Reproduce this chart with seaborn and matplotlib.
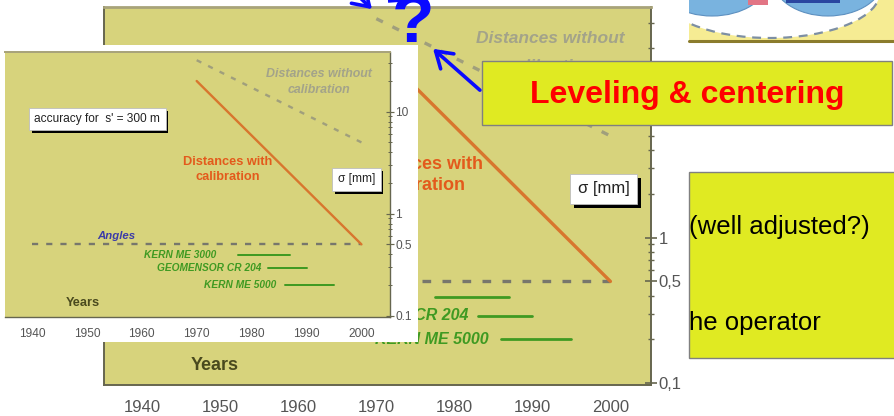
import numpy as np
import matplotlib
matplotlib.use("Agg")
import matplotlib.pyplot as plt
import matplotlib.patheffects as pe
from matplotlib.patches import Rectangle, Ellipse, FancyArrowPatch
from matplotlib.ticker import FixedLocator, FixedFormatter, LogLocator, NullFormatter, MultipleLocator
import seaborn as sns

# values (sigma in mm over the years)
years_with_cal = [1970, 2000]
sigma_with_cal = [20, 0.5]
years_without_cal = [1970, 2000]
sigma_without_cal = [32, 5]
years_angles = [1940, 2000]
sigma_angles = [0.5, 0.5]
instrument_names = ["KERN ME 3000", "GEOMENSOR CR 204", "KERN ME 5000"]
instrument_from = [1977.5, 1983, 1986]
instrument_to = [1987, 1990, 1995]
instrument_sigma = [0.39, 0.29, 0.2]
x_ticks = [1940, 1950, 1960, 1970, 1980, 1990, 2000]
y_ticks = [0.1, 0.5, 1, 10]
# the big chart's "10" sits under the "Leveling & centering" box
y_labels_big = ["0,1", "0,5", "1", ""]
y_labels_small = ["0.1", "0.5", "1", "10"]

W, H = 894, 416
CHART_BG = "#d7d37c"
SPINE = "#66664f"
BLUE = "#0a0aff"
SLIDE_YELLOW = "#e0ea22"

sns.set_theme(style="white")
plt.rcParams["font.family"] = ["Liberation Sans", "DejaVu Sans"]


def px_rect(left, top, right, bottom):
    return [left / W, 1 - bottom / H, (right - left) / W, (bottom - top) / H]


def boxed_text(ax, x, y, text, size, s):
    t = ax.text(x, y, text, fontsize=size, ha="center", va="center", color="#222222",
                bbox=dict(boxstyle="square,pad=0.45", fc="white", ec="#bdbdbd", lw=0.6))
    t.get_bbox_patch().set_path_effects(
        [pe.SimplePatchShadow(offset=(3 * s, -3 * s), shadow_rgbFace="black", alpha=1), pe.Normal()])
    return t


def draw_chart(ax, s, y_labels, green_size, nocal_second):
    ax.set_facecolor(CHART_BG)
    ax.set_yscale("log")

    sns.lineplot(x=years_without_cal, y=sigma_without_cal, ax=ax, color="#a09f7c", linewidth=2.4 * s)
    ax.lines[-1].set_dashes((2.2, 3.2))
    sns.lineplot(x=years_angles, y=sigma_angles, ax=ax, color="#77776c", linewidth=2.4 * s)
    ax.lines[-1].set_dashes((2.6, 3.4))
    sns.lineplot(x=years_with_cal, y=sigma_with_cal, ax=ax, color="#d8762e", linewidth=2.4 * s)
    for x0, x1, y in zip(instrument_from, instrument_to, instrument_sigma):
        sns.lineplot(x=[x0, x1], y=[y, y], ax=ax, color="#3f9a22", linewidth=2.0 * s)

    label_right = [1973.5, 1981.8, 1984.4]
    for name, xr, y in zip(instrument_names, label_right, instrument_sigma):
        ax.text(xr, y, name, ha="right", va="center", fontsize=green_size, color="#3f9a22",
                fontweight="bold", fontstyle="italic")

    ax.text(1992.3, 23.5, "Distances without", ha="center", va="center", fontsize=12.5 * s,
            color="#a3a38a", fontweight="bold", fontstyle="italic")
    ax.text(1992.3, nocal_second, "calibration", ha="center", va="center", fontsize=12.5 * s,
            color="#a3a38a", fontweight="bold", fontstyle="italic")
    ax.text(1975.6, 3.2, "Distances with", ha="center", va="center", fontsize=13 * s,
            color="#e35a1c", fontweight="bold")
    ax.text(1975.6, 2.3, "calibration", ha="center", va="center", fontsize=13 * s,
            color="#e35a1c", fontweight="bold")
    ax.text(1955.4, 0.6, "Angles", ha="center", va="center", fontsize=11.5 * s,
            color="#3b3ba8", fontweight="bold", fontstyle="italic")
    ax.text(1949.3, 0.132, "Years", ha="center", va="center", fontsize=13 * s,
            color="#4a4a1e", fontweight="bold")
    boxed_text(ax, 1999.1, 2.17, "σ [mm]", 12 * s, s)
    boxed_text(ax, 1951.9, 8.5, "accuracy for  s' = 300 m", 12 * s, s)

    ax.set_xlim(1935.1, 2005.2)
    ax.set_ylim(0.097, 38.5)
    ax.xaxis.set_major_locator(FixedLocator(x_ticks))
    ax.xaxis.set_minor_locator(MultipleLocator(5))
    ax.yaxis.set_major_locator(FixedLocator(y_ticks))
    ax.yaxis.set_major_formatter(FixedFormatter(y_labels))
    ax.yaxis.set_minor_locator(LogLocator(base=10, subs=np.arange(2, 10)))
    ax.yaxis.set_minor_formatter(NullFormatter())
    ax.yaxis.tick_right()
    ax.tick_params(which="major", direction="inout", length=8 * s, width=1.2 * s, color=SPINE,
                   labelsize=12 * s, labelcolor="#555555")
    ax.tick_params(which="minor", direction="inout", length=4 * s, width=1.0 * s, color=SPINE)
    ax.tick_params(axis="x", which="major", pad=7 * s)
    ax.tick_params(axis="y", which="major", pad=1.5 * s)
    ax.set_xlabel("")
    ax.set_ylabel("")
    for side in ["left", "right", "bottom"]:
        ax.spines[side].set_color(SPINE)
        ax.spines[side].set_linewidth(1.4 * s)
    ax.spines["top"].set_color("#a8a37a")
    ax.spines["top"].set_linewidth(2.0 * s)


fig = plt.figure(figsize=(W / 100, H / 100), dpi=100)
fig.patch.set_facecolor("white")

big = fig.add_axes(px_rect(104, 7, 651, 385), zorder=1)
draw_chart(big, 1.0, y_labels_big, 11.5, 15)

backing = fig.add_axes(px_rect(0, 45, 418, 342), zorder=2)
backing.set_facecolor("white")
backing.set_xticks([])
backing.set_yticks([])
for sp in backing.spines.values():
    sp.set_visible(False)

small = fig.add_axes(px_rect(5, 52, 390, 317), zorder=3)
draw_chart(small, 0.71, y_labels_small, 7.3, 16.2)
small.spines["left"].set_visible(False)

over = fig.add_axes([0, 0, 1, 1], zorder=4)
over.set_xlim(0, W)
over.set_ylim(H, 0)
over.axis("off")
over.patch.set_alpha(0)

# picture at the top right
frame = Rectangle((689, 0), 205, 41, fc="#f6ec93", ec="none")
over.add_patch(frame)
for patch in [
    Ellipse((770, -8), 220, 92, fc="white", ec="#7d8fa3", lw=1.6, ls=(0, (4, 3))),
    Ellipse((712, -20), 112, 72, fc="#79b3df", ec="#5d90c0", lw=0.8),
    Ellipse((828, -22), 112, 76, fc="#79b3df", ec="#5d90c0", lw=0.8),
    Rectangle((748, 0), 20, 5, fc="#e27585", ec="none"),
    Rectangle((786, 0), 54, 3, fc="#2a46a0", ec="none"),
]:
    over.add_patch(patch)
    patch.set_clip_path(frame)
over.plot([689, 894], [41, 41], color="#8b7c2c", lw=2.2)

# slide boxes
over.add_patch(Rectangle((482, 61), 410, 64, fc=SLIDE_YELLOW, ec="#808080", lw=1.0))
over.text(687, 95, "Leveling & centering", ha="center", va="center", fontsize=23,
          fontweight="bold", color="#ff0000")
over.add_patch(Rectangle((689, 172), 210, 186, fc=SLIDE_YELLOW, ec="#808080", lw=1.0))
over.text(689, 227, "(well adjusted?)", ha="left", va="center", fontsize=18.5, color="black")
over.text(689, 323, "he operator", ha="left", va="center", fontsize=18.5, color="black")

# question mark and arrows
over.text(413, 42, "?", ha="center", va="baseline", fontsize=50, fontweight="bold", color=BLUE)
for start, end in [((352, -10), (374, 11)), ((482, 92), (431, 47))]:
    over.add_patch(FancyArrowPatch(start, end, arrowstyle="->,head_length=0.7,head_width=0.45",
                                   mutation_scale=16, lw=2.6, color=BLUE))
over.plot([388, 402], [1, 0], color=BLUE, lw=2.6, solid_capstyle="butt")

fig.savefig("out.png", dpi=100, facecolor="white")
